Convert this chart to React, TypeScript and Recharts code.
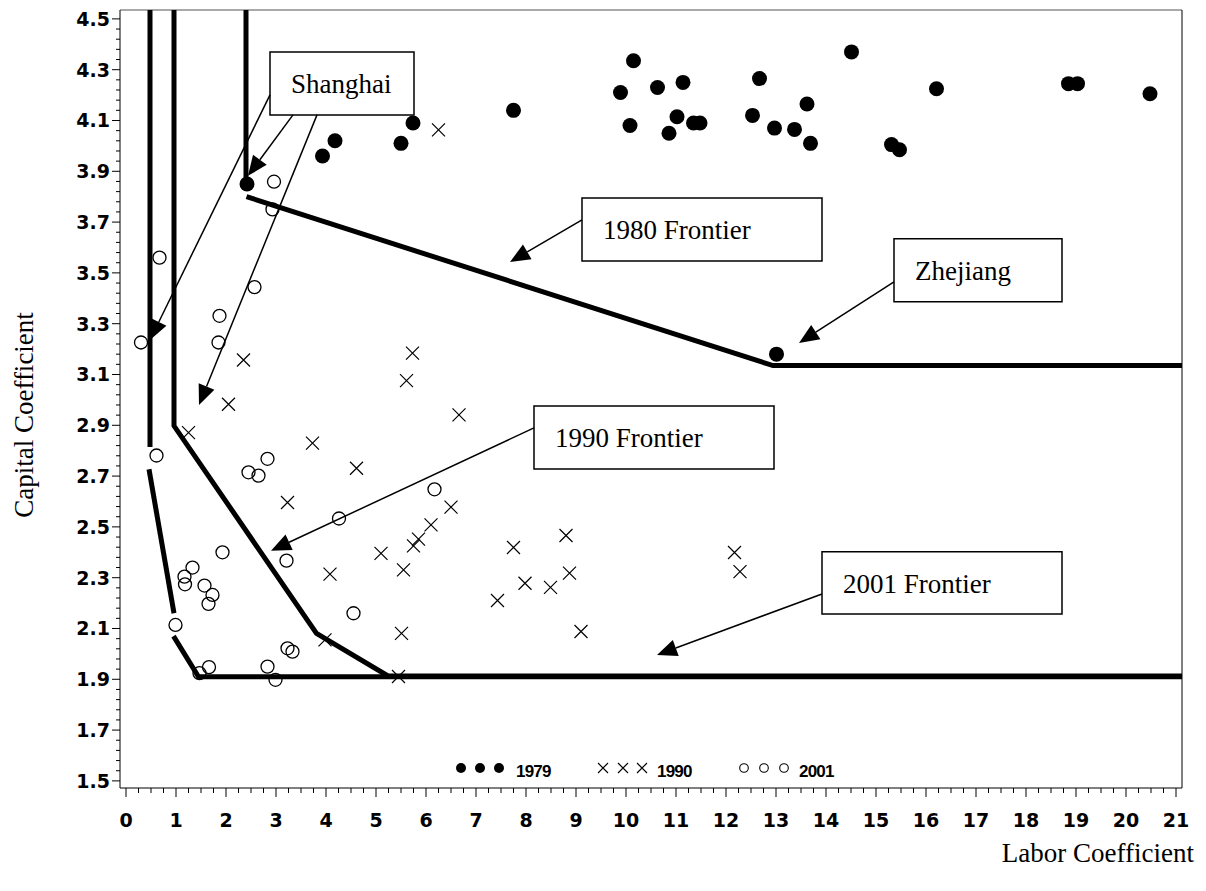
import { ScatterChart, Scatter, XAxis, YAxis, ReferenceLine, ReferenceArea } from "recharts";

// labor / capital coefficients per province
const labor1979 = [2.42, 3.93, 4.18, 5.5, 5.74, 7.75, 10.15, 9.89, 10.63, 11.14, 10.08, 11.02, 10.86, 11.35, 11.48, 12.53, 12.67, 13.62, 12.97, 13.37, 13.69, 14.51, 16.21, 15.31, 15.47, 18.85, 19.03, 20.48, 13.01];
const capital1979 = [3.85, 3.96, 4.02, 4.01, 4.09, 4.14, 4.335, 4.21, 4.23, 4.25, 4.08, 4.115, 4.05, 4.09, 4.09, 4.12, 4.265, 4.165, 4.07, 4.065, 4.01, 4.37, 4.225, 4.005, 3.985, 4.245, 4.245, 4.205, 3.18];

const labor1990 = [2.35, 2.05, 1.25, 5.73, 5.61, 6.66, 3.73, 4.61, 3.23, 6.5, 6.1, 5.85, 5.75, 5.1, 5.55, 4.08, 7.43, 5.51, 3.98, 5.45, 7.75, 8.8, 7.98, 8.49, 8.87, 9.1, 12.17, 12.28, 6.25];
const capital1990 = [3.157, 2.983, 2.871, 3.184, 3.076, 2.941, 2.83, 2.731, 2.596, 2.578, 2.508, 2.452, 2.425, 2.396, 2.331, 2.314, 2.21, 2.081, 2.055, 1.911, 2.419, 2.466, 2.278, 2.262, 2.318, 2.088, 2.399, 2.324, 4.063];

const labor2001 = [2.96, 2.93, 0.67, 2.57, 1.87, 1.85, 0.3, 0.61, 2.45, 2.65, 2.83, 1.93, 1.33, 1.17, 1.18, 1.57, 1.73, 1.65, 0.99, 1.47, 1.66, 2.83, 2.99, 3.23, 3.33, 3.21, 6.17, 4.26, 4.55];
const capital2001 = [3.859, 3.75, 3.56, 3.444, 3.331, 3.226, 3.226, 2.781, 2.715, 2.702, 2.768, 2.4, 2.34, 2.304, 2.274, 2.269, 2.232, 2.197, 2.114, 1.924, 1.948, 1.95, 1.898, 2.022, 2.009, 2.367, 2.648, 2.533, 2.16];

// frontier pieces (labor, capital vertices)
const frontier1980 = [
  { labor: [2.4, 2.4], capital: [4.535, 3.875] },
  { labor: [2.41, 12.94, 21.12], capital: [3.8, 3.135, 3.135] },
];
const frontier1990 = [
  { labor: [0.96, 0.96, 3.81, 5.24, 21.12], capital: [4.535, 2.898, 2.081, 1.913, 1.913] },
];
const frontier2001 = [
  { labor: [0.48, 0.48], capital: [4.535, 2.815] },
  { labor: [0.46, 0.96], capital: [2.727, 2.16] },
  { labor: [0.95, 1.45, 21.12], capital: [2.07, 1.91, 1.91] },
];

const xMajorTicks = [0, 1, 2, 3, 4, 5, 6, 7, 8, 9, 10, 11, 12, 13, 14, 15, 16, 17, 18, 19, 20, 21];
const yMajorTicks = [1.5, 1.7, 1.9, 2.1, 2.3, 2.5, 2.7, 2.9, 3.1, 3.3, 3.5, 3.7, 3.9, 4.1, 4.3, 4.5];

const xTicks: number[] = [];
for (let i = 0; i <= 84; i++) xTicks.push(i / 4);
const yTicks: number[] = [];
for (let i = 0; i <= 75; i++) yTicks.push(Math.round((1.5 + i * 0.04) * 100) / 100);

const toPoints = (xs: number[], ys: number[]) => xs.map((x, i) => ({ x, y: ys[i] }));

// annotation boxes and arrows, in data units
const boxes = [
  { text: "Shanghai", x1: 2.88, x2: 5.76, y1: 4.122, y2: 4.37 },
  { text: "1980 Frontier", x1: 9.12, x2: 13.92, y1: 3.547, y2: 3.795 },
  { text: "Zhejiang", x1: 15.36, x2: 18.72, y1: 3.386, y2: 3.634 },
  { text: "1990 Frontier", x1: 8.16, x2: 12.96, y1: 2.728, y2: 2.976 },
  { text: "2001 Frontier", x1: 13.92, x2: 18.72, y1: 2.157, y2: 2.402 },
];
const arrows = [
  { from: [2.88, 4.201], to: [0.48, 3.236] },
  { from: [3.34, 4.122], to: [2.44, 3.882] },
  { from: [3.82, 4.122], to: [1.46, 2.98] },
  { from: [9.12, 3.709], to: [7.68, 3.543] },
  { from: [15.36, 3.465], to: [13.46, 3.224] },
  { from: [8.16, 2.89], to: [2.9, 2.406] },
  { from: [13.92, 2.236], to: [10.62, 1.996] },
];

const TICK_FONT = "DejaVu Sans, sans-serif";
const SERIF = "Liberation Serif, Times New Roman, serif";

const isYMajor = (v: number) => yMajorTicks.some((t) => Math.abs(t - v) < 1e-6);
const isXMajor = (v: number) => xMajorTicks.includes(v);

const YTick = (props: any) => {
  const { x, y, payload } = props;
  const v = payload.value;
  const major = isYMajor(v);
  return (
    <g>
      <line x1={x - (major ? 8 : 4)} x2={x} y1={y} y2={y} stroke="#000" strokeWidth={1} />
      {major && (
        <text x={x - 10} y={y + 7} textAnchor="end" fontFamily={TICK_FONT} fontWeight="bold" fontSize={19} fill="#000">
          {v.toFixed(1)}
        </text>
      )}
    </g>
  );
};

const XTick = (props: any) => {
  const { x, y, payload } = props;
  const v = payload.value;
  const major = isXMajor(v);
  return (
    <g>
      <line x1={x} x2={x} y1={y} y2={y + (major ? 9 : 5)} stroke="#000" strokeWidth={1} />
      {major && (
        <text x={x} y={y + 39} textAnchor="middle" fontFamily={TICK_FONT} fontWeight="bold" fontSize={19} fill="#000">
          {v}
        </text>
      )}
    </g>
  );
};

const Arrow = (props: any) => {
  const { x1, y1, x2, y2 } = props;
  const ang = Math.atan2(y2 - y1, x2 - x1);
  const len = 20;
  const half = 8.5;
  const bx = x2 - len * Math.cos(ang);
  const by = y2 - len * Math.sin(ang);
  const px = -Math.sin(ang) * half;
  const py = Math.cos(ang) * half;
  return (
    <g>
      <line x1={x1} y1={y1} x2={bx} y2={by} stroke="#000" strokeWidth={1.5} />
      <polygon points={`${x2},${y2} ${bx + px},${by + py} ${bx - px},${by - py}`} fill="#000" />
    </g>
  );
};

const Dot = (p: any) => <circle cx={p.cx} cy={p.cy} r={7.5} fill="#000" />;
const Cross = (p: any) => (
  <path d={`M${p.cx - 6.5},${p.cy - 6.5}L${p.cx + 6.5},${p.cy + 6.5}M${p.cx - 6.5},${p.cy + 6.5}L${p.cx + 6.5},${p.cy - 6.5}`} stroke="#000" strokeWidth={1.2} fill="none" />
);
const Ring = (p: any) => <circle cx={p.cx} cy={p.cy} r={6.5} fill="none" stroke="#000" strokeWidth={1.3} />;
const NoShape = () => <g />;

const legendFont = { fontFamily: "Liberation Sans, Arial, sans-serif", fontWeight: "bold" as const, fontSize: 17, letterSpacing: -0.8 };

export default function App() {
  const frontiers = [...frontier1980, ...frontier1990, ...frontier2001];
  return (
    <div style={{ position: "absolute", left: 0, top: 0, background: "#fff" }}>
      <ScatterChart width={1206} height={891} margin={{ top: 10, right: 24, bottom: 53, left: 0 }}>
        <XAxis
          type="number"
          dataKey="x"
          domain={[-0.12, 21.12]}
          allowDataOverflow
          ticks={xTicks}
          interval={0}
          tick={<XTick />}
          tickLine={false}
          tickSize={0}
          tickMargin={0}
          height={50}
          axisLine={{ stroke: "#000", strokeWidth: 1 }}
        />
        <YAxis
          type="number"
          dataKey="y"
          domain={[1.472, 4.535]}
          allowDataOverflow
          ticks={yTicks}
          interval={0}
          tick={<YTick />}
          tickLine={false}
          tickSize={0}
          tickMargin={0}
          width={120}
          axisLine={{ stroke: "#000", strokeWidth: 1 }}
        />

        {/* plot frame top and right */}
        <line x1={120} y1={10} x2={1182} y2={10} stroke="#555" strokeWidth={1} />
        <line x1={1182} y1={10} x2={1182} y2={788} stroke="#000" strokeWidth={1} />

        {frontiers.map((f, i) => (
          <Scatter
            key={`front-${i}`}
            data={toPoints(f.labor, f.capital)}
            fill="#000"
            line={{ stroke: "#000", strokeWidth: 5 }}
            lineType="joint"
            shape={NoShape}
            legendType="none"
            isAnimationActive={false}
          />
        ))}

        <Scatter data={toPoints(labor1979, capital1979)} shape={Dot} fill="#000" isAnimationActive={false} />
        <Scatter data={toPoints(labor1990, capital1990)} shape={Cross} fill="#000" isAnimationActive={false} />
        <Scatter data={toPoints(labor2001, capital2001)} shape={Ring} fill="#000" isAnimationActive={false} />

        {arrows.map((a, i) => (
          <ReferenceLine
            key={`arrow-${i}`}
            segment={[
              { x: a.from[0], y: a.from[1] },
              { x: a.to[0], y: a.to[1] },
            ]}
            shape={Arrow}
            ifOverflow="visible"
          />
        ))}

        {boxes.map((b) => (
          <ReferenceArea
            key={b.text}
            x1={b.x1}
            x2={b.x2}
            y1={b.y1}
            y2={b.y2}
            fill="#fff"
            fillOpacity={1}
            stroke="#000"
            strokeWidth={1.5}
            ifOverflow="visible"
            label={(p: any) => (
              <text
                x={p.viewBox.x + 21}
                y={p.viewBox.y + p.viewBox.height / 2 + 10}
                fontFamily={SERIF}
                fontSize={27}
                fill="#000"
              >
                {b.text}
              </text>
            )}
          />
        ))}

        {/* legend */}
        <g>
          {[461, 480, 499].map((x) => (
            <circle key={x} cx={x} cy={768} r={5} fill="#000" />
          ))}
          <text x={516} y={777} {...legendFont}>1979</text>
          {[603, 623, 642].map((x) => (
            <path key={x} d={`M${x - 5},${763}L${x + 5},${773}M${x - 5},${773}L${x + 5},${763}`} stroke="#000" strokeWidth={1.1} />
          ))}
          <text x={657} y={777} {...legendFont}>1990</text>
          {[744, 764, 784].map((x) => (
            <circle key={x} cx={x} cy={768} r={4.3} fill="none" stroke="#000" strokeWidth={1.1} />
          ))}
          <text x={799} y={777} {...legendFont}>2001</text>
        </g>

        <text x={33} y={415} transform="rotate(-90, 33, 415)" textAnchor="middle" fontFamily={SERIF} fontSize={27} fill="#000">
          Capital Coefficient
        </text>
        <text x={1194} y={862} textAnchor="end" fontFamily={SERIF} fontSize={27} fill="#000">
          Labor Coefficient
        </text>
      </ScatterChart>
    </div>
  );
}
